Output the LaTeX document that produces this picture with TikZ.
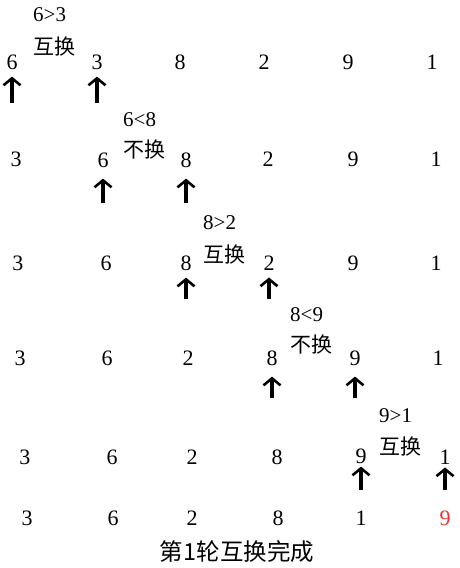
\documentclass[tikz,border=0pt]{standalone}
\usepackage{fontspec}
\setmainfont{Liberation Serif}
\newfontfamily\cjk{Noto Sans CJK SC}
\usetikzlibrary{arrows.meta}
\definecolor{sortedred}{RGB}{232,52,52}
\tikzset{
  num/.style={inner sep=0pt,font=\fontsize{22}{26}\selectfont},
  note/.style={inner sep=0pt,anchor=west,font=\fontsize{21}{25}\selectfont},
  ptr/.style={->,>={Straight Barb[length=7pt,width=17pt,line width=2.6pt]},line width=3.6pt,shorten >=7pt}
}
\begin{document}
\begin{tikzpicture}[x=1pt,y=-1pt]
  \useasboundingbox (0,0) rectangle (459,568);
  % round 1: 6>3
  \node[num] (n11) at (12,62) {6};
  \node[num] (n12) at (97,62) {3};
  \node[num] (n13) at (180,62) {8};
  \node[num] (n14) at (264,62) {2};
  \node[num] (n15) at (348,62) {9};
  \node[num] (n16) at (432,62) {1};
  \node[note] (c1) at (33,15) {6>3};
  \node[note] (s1) at (33,47) {\cjk 互换};
  \coordinate (p11) at (12,103);
  \coordinate (p12) at (97,103);
  \draw[ptr] (p11) -- (n11);
  \draw[ptr] (p12) -- (n12);
  % 6<8
  \node[num] (n21) at (16,159) {3};
  \node[num] (n22) at (103,160) {6};
  \node[num] (n23) at (186,160) {8};
  \node[num] (n24) at (268,159) {2};
  \node[num] (n25) at (353,159) {9};
  \node[num] (n26) at (436,159) {1};
  \node[note] (c2) at (123,120) {6<8};
  \node[note] (s2) at (123,150) {\cjk 不换};
  \coordinate (p22) at (103,203);
  \coordinate (p23) at (186,203);
  \draw[ptr,shorten >=11pt] (p22) -- (n22);
  \draw[ptr,shorten >=11pt] (p23) -- (n23);
  % 8>2
  \node[num] (n31) at (18,263) {3};
  \node[num] (n32) at (106,263) {6};
  \node[num] (n33) at (186,263) {8};
  \node[num] (n34) at (269,263) {2};
  \node[num] (n35) at (353,263) {9};
  \node[num] (n36) at (436,263) {1};
  \node[note] (c3) at (203,223) {8>2};
  \node[note] (s3) at (203,255) {\cjk 互换};
  \coordinate (p33) at (186,299);
  \coordinate (p34) at (269,299);
  \draw[ptr] (p33) -- (n33);
  \draw[ptr] (p34) -- (n34);
  % 8<9
  \node[num] (n41) at (20,358) {3};
  \node[num] (n42) at (107,358) {6};
  \node[num] (n43) at (188,358) {2};
  \node[num] (n44) at (272,358) {8};
  \node[num] (n45) at (355,358) {9};
  \node[num] (n46) at (438,358) {1};
  \node[note] (c4) at (290,315) {8<9};
  \node[note] (s4) at (290,345) {\cjk 不换};
  \coordinate (p44) at (272,398);
  \coordinate (p45) at (355,398);
  \draw[ptr,shorten >=11pt] (p44) -- (n44);
  \draw[ptr,shorten >=11pt] (p45) -- (n45);
  % 9>1
  \node[num] (n51) at (25,457) {3};
  \node[num] (n52) at (112,457) {6};
  \node[num] (n53) at (192,457) {2};
  \node[num] (n54) at (277,457) {8};
  \node[num] (n55) at (361,456) {9};
  \node[num] (n56) at (445,457) {1};
  \node[note] (c5) at (379,416) {9>1};
  \node[note] (s5) at (379,447) {\cjk 互换};
  \coordinate (p55) at (361,490);
  \coordinate (p56) at (445,490);
  \draw[ptr,shorten >=3pt] (p55) -- (n55);
  \draw[ptr,shorten >=3pt] (p56) -- (n56);
  % result
  \node[num] (n61) at (27,518) {3};
  \node[num] (n62) at (113,518) {6};
  \node[num] (n63) at (192,518) {2};
  \node[num] (n64) at (278,518) {8};
  \node[num] (n65) at (361,518) {1};
  \node[num,text=sortedred] (n66) at (445,518) {9};
  \node[inner sep=0pt,font=\cjk\fontsize{23.5}{28}\selectfont] (cap) at (237,552) {第1轮互换完成};
\end{tikzpicture}
\end{document}
